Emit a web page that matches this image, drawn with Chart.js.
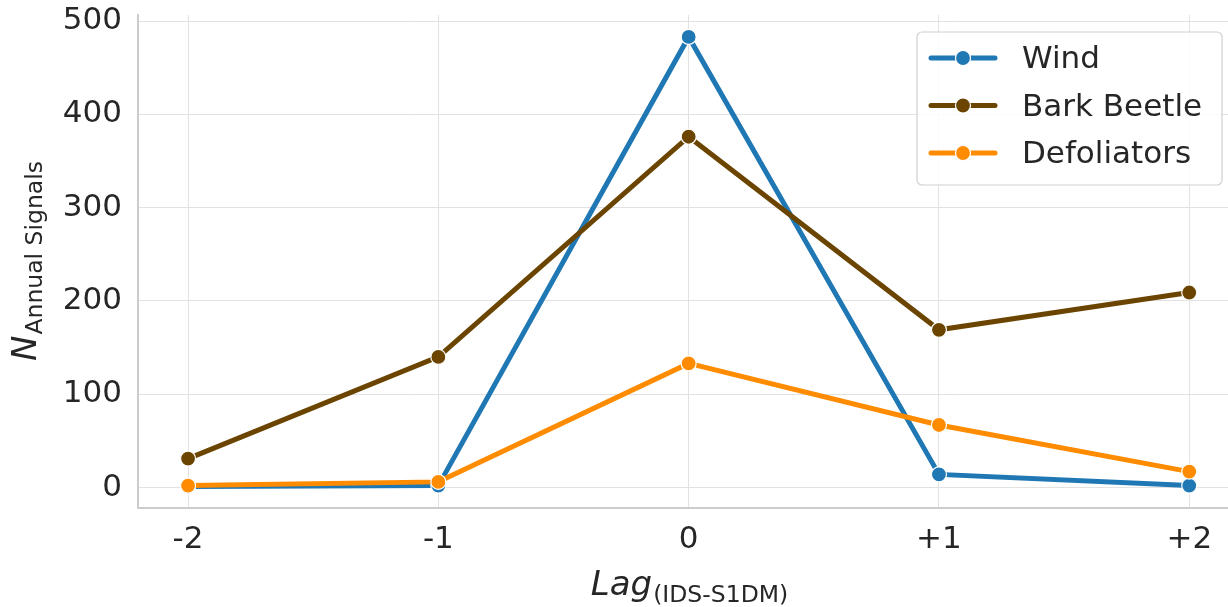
<html>
<head>
    <title>Annual signals by lag</title>
    <script src="https://cdn.jsdelivr.net/npm/chart.js@4"></script>
    <style>
        html, body { margin: 0; background: #fff; overflow: hidden; }
        #wrap { width: 1238px; height: 607px; }
    </style>
</head>
<body>
    <div id="wrap"><canvas id="myChart"></canvas></div>
    <script type="text/javascript">
        // data
        const lags = [-2, -1, 0, 1, 2];
        const lagLabels = ['-2', '-1', '0', '+1', '+2'];
        const yTicks = [0, 100, 200, 300, 400, 500];
        const wind = [1, 2, 483, 14, 2];
        const barkBeetle = [31, 140, 376, 169, 209];
        const defoliators = [2, 6, 133, 67, 17];

        const seriesNames = ['Wind', 'Bark Beetle', 'Defoliators'];
        const colors = ['#1f77b4', '#6b4500', '#ff8c00'];
        const font = '"DejaVu Sans", sans-serif';
        const textColor = '#262626';

        function toPoints(vals) {
            return vals.map((v, k) => ({x: lags[k], y: v}));
        }

        const data = {
            datasets: [wind, barkBeetle, defoliators].map((vals, k) => ({
                label: seriesNames[k],
                data: toPoints(vals),
                borderColor: colors[k],
                backgroundColor: colors[k],
                borderWidth: 5,
                pointRadius: 7.5,
                pointBorderColor: '#ffffff',
                pointBorderWidth: 1.2,
                pointBackgroundColor: colors[k],
                order: 3 - k
            }))
        };

        // axis titles with subscripts + matplotlib style legend
        const extras = {
            id: 'extras',
            afterDraw(chart) {
                const ctx = chart.ctx;
                const area = chart.chartArea;
                ctx.save();
                ctx.fillStyle = textColor;
                ctx.textBaseline = 'alphabetic';
                ctx.textAlign = 'left';

                // x title
                ctx.font = 'italic 34px ' + font;
                const wLag = ctx.measureText('Lag').width;
                ctx.font = '23.5px ' + font;
                const wSub = ctx.measureText('(IDS-S1DM)').width;
                let x0 = 689 - (wLag + wSub) / 2;
                ctx.font = 'italic 34px ' + font;
                ctx.fillText('Lag', x0, 595);
                ctx.font = '23.5px ' + font;
                ctx.fillText('(IDS-S1DM)', x0 + wLag + 1, 601.5);

                // y title
                ctx.save();
                ctx.translate(36, (area.top + area.bottom) / 2);
                ctx.rotate(-Math.PI / 2);
                ctx.font = 'italic 34px ' + font;
                const wN = ctx.measureText('N').width;
                ctx.font = '23.5px ' + font;
                const wA = ctx.measureText('Annual Signals').width;
                let y0 = -(wN + wA) / 2;
                ctx.font = 'italic 34px ' + font;
                ctx.fillText('N', y0, 0);
                ctx.font = '23.5px ' + font;
                ctx.fillText('Annual Signals', y0 + wN + 1, 6);
                ctx.restore();

                // legend
                const bx = 917, by = 32, bw = 305, bh = 153;
                ctx.beginPath();
                ctx.roundRect(bx, by, bw, bh, 5);
                ctx.fillStyle = 'rgba(255,255,255,0.85)';
                ctx.fill();
                ctx.strokeStyle = '#d0d0d0';
                ctx.lineWidth = 1.2;
                ctx.stroke();
                chart.data.datasets.forEach(function(d, k) {
                    const ry = 58 + k * 47.5;
                    ctx.strokeStyle = d.borderColor;
                    ctx.lineWidth = 5;
                    ctx.lineCap = 'round';
                    ctx.beginPath();
                    ctx.moveTo(931, ry);
                    ctx.lineTo(995, ry);
                    ctx.stroke();
                    ctx.beginPath();
                    ctx.arc(963, ry, 7.5, 0, Math.PI * 2);
                    ctx.fillStyle = d.borderColor;
                    ctx.fill();
                    ctx.strokeStyle = '#ffffff';
                    ctx.lineWidth = 1.2;
                    ctx.stroke();
                    ctx.fillStyle = textColor;
                    ctx.font = '31px ' + font;
                    ctx.textBaseline = 'middle';
                    ctx.fillText(d.label, 1022, ry + 2);
                });
                ctx.restore();
            }
        };

        const config = {
            type: 'line',
            data: data,
            plugins: [extras],
            options: {
                responsive: true,
                maintainAspectRatio: false,
                animation: false,
                layout: { padding: { top: 15, right: 0, left: 0, bottom: 0 } },
                plugins: {
                    legend: { display: false },
                    tooltip: { enabled: false }
                },
                scales: {
                    x: {
                        type: 'linear',
                        min: -2.2,
                        max: 2.16,
                        afterBuildTicks: (s) => { s.ticks = lags.map(v => ({value: v})); },
                        afterFit: (s) => { s.height = 99; s.paddingLeft = 0; s.paddingRight = 0; },
                        ticks: {
                            callback: (v) => lagLabels[lags.indexOf(v)],
                            font: { family: font, size: 31 },
                            color: textColor,
                            padding: 13,
                            maxRotation: 0
                        },
                        grid: { color: '#e2e2e2', lineWidth: 1, drawTicks: false },
                        border: { display: true, color: '#cccccc', width: 2 }
                    },
                    y: {
                        min: -22,
                        max: 506.5,
                        afterBuildTicks: (s) => { s.ticks = yTicks.map(v => ({value: v})); },
                        afterFit: (s) => { s.width = 138; s.paddingTop = 0; s.paddingBottom = 0; },
                        ticks: {
                            font: { family: font, size: 31 },
                            color: textColor,
                            padding: 16
                        },
                        grid: { color: '#e2e2e2', lineWidth: 1, drawTicks: false },
                        border: { display: true, color: '#cccccc', width: 2 }
                    }
                }
            }
        };
        var myChart = new Chart(document.getElementById('myChart'), config);
    </script>
</body>
</html>
